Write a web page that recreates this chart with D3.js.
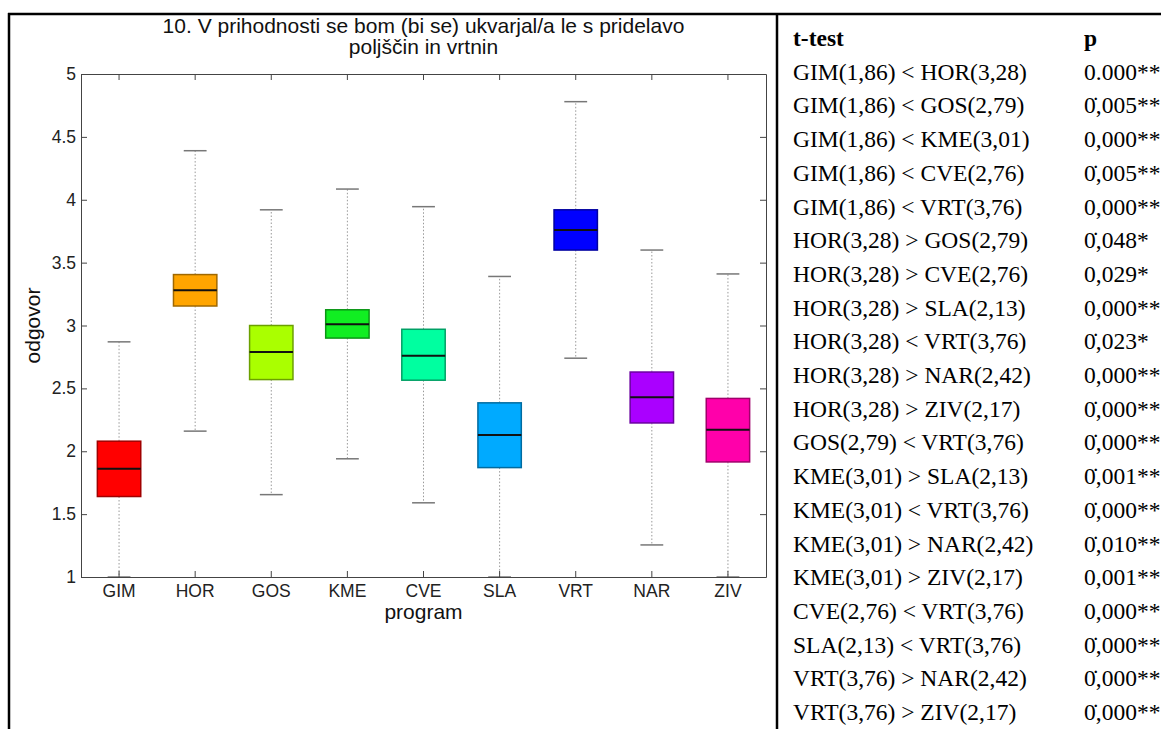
<!DOCTYPE html>
<html>
<head>
<meta charset="utf-8">
<script src="https://cdn.jsdelivr.net/npm/d3@7"></script>
<style>
  body { margin: 0; background: #fff; }
  svg { display: block; }
</style>
</head>
<body>
<svg id="chart" width="1161" height="729"></svg>
<script>
// box plot values per program
const programs = ['GIM', 'HOR', 'GOS', 'KME', 'CVE', 'SLA', 'VRT', 'NAR', 'ZIV'];
const boxColors = ['#ff0000', '#ffa500', '#aaff00', '#11ee22', '#00ffa0', '#00aaff', '#0000ff', '#aa00ff', '#ff00aa'];
const whiskerLow = [1.0, 2.16, 1.655, 1.94, 1.59, 1.0, 2.74, 1.255, 1.0];
const q1 = [1.64, 3.155, 2.57, 2.90, 2.565, 1.87, 3.60, 2.225, 1.915];
const medians = [1.86, 3.28, 2.79, 3.01, 2.76, 2.13, 3.76, 2.43, 2.17];
const q3 = [2.08, 3.405, 3.0, 3.125, 2.97, 2.385, 3.92, 2.63, 2.42];
const whiskerHigh = [2.87, 4.39, 3.92, 4.085, 3.945, 3.39, 4.78, 3.60, 3.41];
const yTicks = [1, 1.5, 2, 2.5, 3, 3.5, 4, 4.5, 5];

const titleLines = ['10. V prihodnosti se bom (bi se) ukvarjal/a le s pridelavo', 'poljščin in vrtnin'];

// t-test table
const tests = [
  'GIM(1,86) < HOR(3,28)', 'GIM(1,86) < GOS(2,79)', 'GIM(1,86) < KME(3,01)',
  'GIM(1,86) < CVE(2,76)', 'GIM(1,86) < VRT(3,76)', 'HOR(3,28) > GOS(2,79)',
  'HOR(3,28) > CVE(2,76)', 'HOR(3,28) > SLA(2,13)', 'HOR(3,28) < VRT(3,76)',
  'HOR(3,28) > NAR(2,42)', 'HOR(3,28) > ZIV(2,17)', 'GOS(2,79) < VRT(3,76)',
  'KME(3,01) > SLA(2,13)', 'KME(3,01) < VRT(3,76)', 'KME(3,01) > NAR(2,42)',
  'KME(3,01) > ZIV(2,17)', 'CVE(2,76) < VRT(3,76)', 'SLA(2,13) < VRT(3,76)',
  'VRT(3,76) > NAR(2,42)', 'VRT(3,76) > ZIV(2,17)'
];
const pValues = [
  '0.000**', '0\u0307,005**', '0,000**', '0\u0307,005**', '0,000**', '0\u0307,048*',
  '0,029*', '0,000**', '0\u0307,023*', '0,000**', '0\u0307,000**', '0\u0307,000**',
  '0\u0307,001**', '0\u0307,000**', '0\u0307,010**', '0,001**', '0,000**', '0\u0307,000**',
  '0\u0307,000**', '0\u0307,000**'
];

const svg = d3.select('#chart');
svg.append('rect').attr('width', 1161).attr('height', 729).attr('fill', '#fff');

const plot = { left: 81, right: 766, top: 74, bottom: 577 };
const sans = '"Liberation Sans", Arial, sans-serif';
const serif = '"Liberation Serif", "Times New Roman", serif';

const x = d3.scaleBand().domain(programs).range([plot.left, plot.right]);
const y = d3.scaleLinear().domain([1, 5]).range([plot.bottom, plot.top]);

const boxes = programs.map((p, i) => ({
  name: p, color: boxColors[i],
  lo: whiskerLow[i], q1: q1[i], med: medians[i], q3: q3[i], hi: whiskerHigh[i]
}));

const boxW = x.bandwidth() * 0.57;
const capW = x.bandwidth() * 0.3;
const cx = d => x(d.name) + x.bandwidth() / 2;

const g = svg.append('g');

// whiskers (dotted)
g.selectAll('.whisk-up').data(boxes).join('line')
  .attr('x1', cx).attr('x2', cx)
  .attr('y1', d => y(d.q3)).attr('y2', d => y(d.hi))
  .attr('stroke', '#999').attr('stroke-width', 1).attr('stroke-dasharray', '1.5,2');
g.selectAll('.whisk-down').data(boxes).join('line')
  .attr('x1', cx).attr('x2', cx)
  .attr('y1', d => y(d.q1)).attr('y2', d => y(d.lo))
  .attr('stroke', '#999').attr('stroke-width', 1).attr('stroke-dasharray', '1.5,2');

// caps
['hi', 'lo'].forEach(k => {
  g.selectAll('.cap-' + k).data(boxes).join('line')
    .attr('x1', d => cx(d) - capW / 2).attr('x2', d => cx(d) + capW / 2)
    .attr('y1', d => y(d[k])).attr('y2', d => y(d[k]))
    .attr('stroke', '#777').attr('stroke-width', 1.5);
});

// boxes
g.selectAll('.box').data(boxes).join('rect')
  .attr('x', d => cx(d) - boxW / 2)
  .attr('width', boxW)
  .attr('y', d => y(d.q3))
  .attr('height', d => y(d.q1) - y(d.q3))
  .attr('fill', d => d.color)
  .attr('stroke', d => d3.color(d.color).darker(1.3))
  .attr('stroke-width', 1.5);

// medians
g.selectAll('.median').data(boxes).join('line')
  .attr('x1', d => cx(d) - boxW / 2).attr('x2', d => cx(d) + boxW / 2)
  .attr('y1', d => y(d.med)).attr('y2', d => y(d.med))
  .attr('stroke', '#111').attr('stroke-width', 2);

// axes, ticks pointing inward on all four sides
const axisStyle = sel => {
  sel.selectAll('.domain').attr('stroke', '#444');
  sel.selectAll('.tick line').attr('stroke', '#444');
  sel.selectAll('text').attr('font-family', sans).attr('font-size', '17.5px').attr('fill', '#222');
};
svg.append('g').attr('transform', `translate(${plot.left},0)`)
  .call(d3.axisLeft(y).tickValues(yTicks).tickFormat(d => String(d)).tickSize(-6).tickSizeOuter(0).tickPadding(5))
  .call(axisStyle);
svg.append('g').attr('transform', `translate(${plot.right},0)`)
  .call(d3.axisRight(y).tickValues(yTicks).tickFormat('').tickSize(-6).tickSizeOuter(0))
  .call(axisStyle);
svg.append('g').attr('transform', `translate(0,${plot.bottom})`)
  .call(d3.axisBottom(x).tickSize(-6).tickSizeOuter(0).tickPadding(8))
  .call(axisStyle);
svg.append('g').attr('transform', `translate(0,${plot.top})`)
  .call(d3.axisTop(x).tickFormat('').tickSize(-6).tickSizeOuter(0))
  .call(axisStyle);
svg.selectAll('.domain').attr('fill', 'none');

// title and axis labels
const midX = (plot.left + plot.right) / 2;
svg.append('text').attr('x', midX).attr('y', 33)
  .attr('text-anchor', 'middle').attr('font-family', sans).attr('font-size', '21px').attr('fill', '#111')
  .selectAll('tspan').data(titleLines).join('tspan')
  .attr('x', midX).attr('dy', (d, i) => i === 0 ? 0 : 21)
  .text(d => d);

svg.append('text').attr('x', midX).attr('y', 619)
  .attr('text-anchor', 'middle').attr('font-family', sans).attr('font-size', '21px').attr('fill', '#111')
  .text('program');

svg.append('text')
  .attr('transform', `translate(40,${(plot.top + plot.bottom) / 2}) rotate(-90)`)
  .attr('text-anchor', 'middle').attr('font-family', sans).attr('font-size', '21px').attr('fill', '#111')
  .text('odgovor');

// table on the right
const rowY = d3.scaleLinear().domain([0, 20]).range([46, 720]);
const table = svg.append('g').attr('font-family', serif).attr('font-size', '23.5px').attr('fill', '#000');
table.append('text').attr('x', 793).attr('y', rowY(0)).attr('font-weight', 'bold').text('t-test');
table.append('text').attr('x', 1084).attr('y', rowY(0)).attr('font-weight', 'bold').text('p');
table.selectAll('.test').data(tests).join('text')
  .attr('x', 793).attr('y', (d, i) => rowY(i + 1)).text(d => d);
table.selectAll('.pval').data(pValues).join('text')
  .attr('x', 1084).attr('y', (d, i) => rowY(i + 1)).text(d => d);

// frame
const frame = svg.append('g').attr('stroke', '#000').attr('fill', 'none');
frame.append('line').attr('x1', 8).attr('x2', 1161).attr('y1', 14).attr('y2', 14).attr('stroke-width', 2.5);
frame.append('line').attr('x1', 9).attr('x2', 9).attr('y1', 13).attr('y2', 729).attr('stroke-width', 2.5);
frame.append('line').attr('x1', 777).attr('x2', 777).attr('y1', 13).attr('y2', 729).attr('stroke-width', 2.5);
</script>
</body>
</html>
